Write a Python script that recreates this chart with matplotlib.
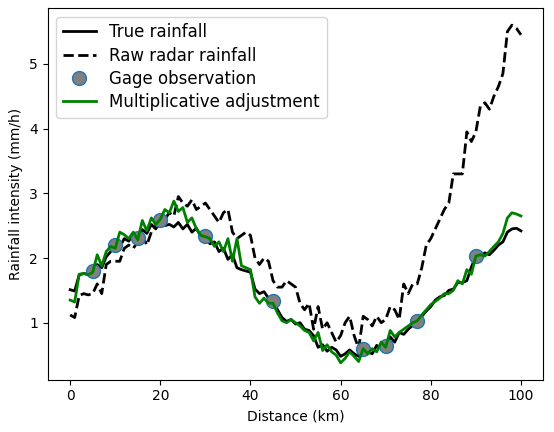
import numpy as np
import matplotlib
matplotlib.use("Agg")
import matplotlib.pyplot as plt

# distance along the transect (km)
distance = np.arange(0, 101)

truth = [
    1.51, 1.49, 1.74, 1.76, 1.75, 1.80, 1.90, 1.85, 2.02, 2.10,
    2.20, 2.17, 2.30, 2.26, 2.38, 2.31, 2.44, 2.38, 2.52, 2.45,
    2.58, 2.50, 2.52, 2.48, 2.55, 2.45, 2.52, 2.40, 2.46, 2.33,
    2.34, 2.22, 2.25, 2.10, 2.15, 1.98, 2.05, 1.85, 1.82, 1.80,
    1.78, 1.52, 1.45, 1.48, 1.38, 1.33, 1.20, 1.08, 1.02, 1.05,
    0.98, 1.00, 0.90, 0.88, 0.80, 0.62, 0.66, 0.56, 0.62, 0.58,
    0.48, 0.52, 0.58, 0.52, 0.48, 0.60, 0.55, 0.52, 0.65, 0.60,
    0.64, 0.78, 0.70, 0.85, 0.82, 0.90, 0.96, 1.02, 1.10, 1.18,
    1.25, 1.35, 1.40, 1.42, 1.50, 1.52, 1.62, 1.62, 1.65, 1.86,
    2.03, 2.03, 2.08, 2.05, 2.12, 2.20, 2.25, 2.40, 2.45, 2.46,
    2.42,
]

radar = [
    1.12, 1.08, 1.42, 1.45, 1.43, 1.45, 1.60, 1.45, 1.90, 1.95,
    1.95, 1.95, 2.15, 2.20, 2.15, 2.25, 2.35, 2.20, 2.40, 2.50,
    2.55, 2.60, 2.70, 2.65, 2.95, 2.85, 2.80, 2.90, 2.75, 2.80,
    2.85, 2.75, 2.65, 2.55, 2.70, 2.75, 2.40, 2.30, 2.35, 2.40,
    2.35, 2.00, 1.90, 2.00, 1.95, 1.65, 1.55, 1.55, 1.65, 1.60,
    1.55, 1.30, 1.20, 1.30, 0.90, 1.25, 0.90, 1.00, 0.85, 0.70,
    0.80, 1.00, 1.10, 0.80, 0.60, 1.10, 1.05, 0.95, 1.10, 1.00,
    1.05, 1.25, 1.20, 1.05, 1.60, 1.45, 1.60, 1.60, 1.85, 2.20,
    2.30, 2.45, 2.60, 2.75, 2.85, 3.30, 3.30, 3.30, 3.95, 3.80,
    3.95, 4.35, 4.40, 4.30, 4.50, 4.65, 4.85, 5.50, 5.60, 5.55,
    5.45,
]

adjusted = [
    1.35, 1.32, 1.75, 1.76, 1.74, 1.78, 2.05, 1.88, 2.10, 2.18,
    2.15, 2.40, 2.36, 2.30, 2.40, 2.28, 2.58, 2.42, 2.62, 2.52,
    2.60, 2.75, 2.70, 2.88, 2.72, 2.78, 2.55, 2.62, 2.45, 2.35,
    2.33, 2.30, 2.18, 2.25, 2.10, 2.30, 1.95, 2.30, 1.88, 1.85,
    1.82, 1.40, 1.30, 1.38, 1.30, 1.30, 1.15, 1.03, 1.00, 1.05,
    1.00, 0.95, 0.88, 0.85, 0.72, 0.85, 0.57, 0.66, 0.55, 0.50,
    0.38, 0.45, 0.55, 0.48, 0.40, 0.60, 0.52, 0.60, 0.55, 0.70,
    0.62, 0.88, 0.78, 0.85, 0.90, 0.95, 1.00, 1.03, 1.12, 1.20,
    1.28, 1.33, 1.38, 1.45, 1.45, 1.50, 1.65, 1.60, 1.82, 1.75,
    2.03, 2.05, 2.03, 2.10, 2.18, 2.25, 2.38, 2.62, 2.70, 2.68,
    2.65,
]

gage_km = [5, 10, 15, 20, 30, 45, 65, 70, 77, 90]
gage_obs = [1.80, 2.20, 2.31, 2.58, 2.34, 1.33, 0.60, 0.64, 1.02, 2.03]

fig = plt.figure(figsize=(5.54, 4.32), dpi=100)
fig.subplots_adjust(left=0.086, right=0.981, top=0.981, bottom=0.121)

plt.plot(distance, truth, "k-", linewidth=2, label="True rainfall")
plt.plot(distance, radar, "k--", linewidth=2, label="Raw radar rainfall")
plt.plot(gage_km, gage_obs, "o", markersize=10, markerfacecolor="grey",
         markeredgecolor="tab:blue", label="Gage observation")
plt.plot(distance, adjusted, "-", color="green", linewidth=2,
         label="Multiplicative adjustment")

plt.xlabel("Distance (km)")
plt.ylabel("Rainfall intensity (mm/h)")
plt.legend(loc="upper left", fontsize=12, labelspacing=0.32)

plt.savefig("out.png", dpi=100)
